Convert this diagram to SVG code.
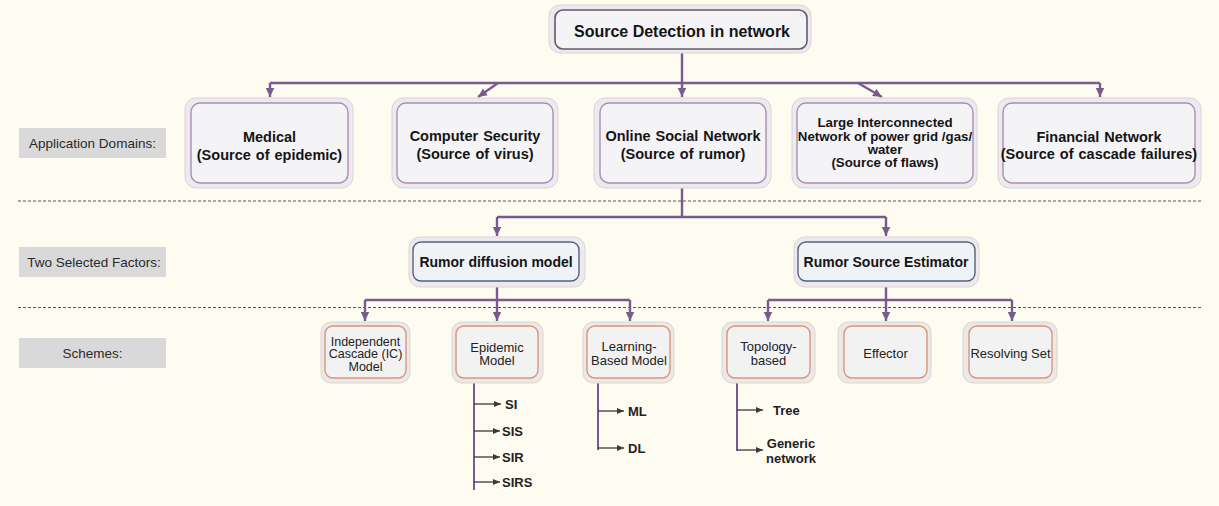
<svg xmlns="http://www.w3.org/2000/svg" width="1219" height="506" viewBox="0 0 1219 506">
<style>
text{font-family:"Liberation Sans",Arial,sans-serif;fill:#151515;text-anchor:middle}
.b{font-weight:bold}
.t1{font-size:14.5px;font-weight:bold;word-spacing:1px}
.t1s{font-size:13.3px;font-weight:bold}
.lab{font-size:13.5px;fill:#2a2a2a}
.sc{font-size:13px;fill:#222}
.sc2{font-size:12.5px;fill:#222}
.sub{font-size:13px;font-weight:bold;fill:#222;text-anchor:start}
.gray{fill:#D9D9D9}
.shell{fill:#EDE9ED;stroke:#DAD4DA;stroke-width:1}
.in1{fill:#F4F3F6;stroke:#A78EB4;stroke-width:1.4}
.inTop{fill:#F4F4F6;stroke:#5E5E66;stroke-width:1.6}
.inR{fill:#EFF2F6;stroke:#56627C;stroke-width:1.4}
.inS{fill:#F3F2F2;stroke:#D8967C;stroke-width:1.4}
.shellS{fill:#EBE8E6;stroke:#DAD6D3;stroke-width:1}
.conn{fill:none;stroke:#7A5A8E;stroke-width:2.4}
.dash{stroke:#555;stroke-width:1.2;stroke-dasharray:3 2}
.bl{fill:none;stroke:#7A5A8E;stroke-width:2}
.br{fill:none;stroke:#3a3a3a;stroke-width:1.3}
</style>
<defs>
<marker id="ah" markerUnits="userSpaceOnUse" markerWidth="10" markerHeight="10" refX="9" refY="5" orient="auto">
<path d="M0,0.8 L9,5 L0,9.2 Z" fill="#7A5A8E"/>
</marker>
<marker id="ad" markerUnits="userSpaceOnUse" markerWidth="8" markerHeight="8" refX="7" refY="4" orient="auto">
<path d="M0,1 L7,4 L0,7 Z" fill="#3a3a3a"/>
</marker>
</defs>
<rect width="1219" height="506" fill="#FEFCF1"/>

<g id="separators">
<line class="dash" x1="18" y1="201" x2="1202" y2="201"/>
<line class="dash" x1="18" y1="307.5" x2="1202" y2="307.5"/>
</g>

<g id="label-application">
<rect class="gray" x="19" y="128" width="147" height="30"/>
<text class="lab" x="92.5" y="147.5">Application Domains:</text>
</g>
<g id="label-factors">
<rect class="gray" x="19" y="247" width="147" height="30"/>
<text class="lab" x="94" y="266.5">Two Selected Factors:</text>
</g>
<g id="label-schemes">
<rect class="gray" x="19" y="338" width="147" height="30"/>
<text class="lab" x="92.5" y="357.5">Schemes:</text>
</g>

<g id="connectors">
<path class="conn" d="M682,53 V83 M270,83 H1100"/>
<path class="conn" d="M270,83 V97" marker-end="url(#ah)"/>
<path class="conn" d="M498,83 L478,97" marker-end="url(#ah)"/>
<path class="conn" d="M682,83 V97" marker-end="url(#ah)"/>
<path class="conn" d="M858,83 L882,97" marker-end="url(#ah)"/>
<path class="conn" d="M1100,83 V97" marker-end="url(#ah)"/>
<path class="conn" d="M682,188 V217 M497,217 H886"/>
<path class="conn" d="M497,217 V236" marker-end="url(#ah)"/>
<path class="conn" d="M886,217 V236" marker-end="url(#ah)"/>
<path class="conn" d="M497,287 V300 M365,300 H630"/>
<path class="conn" d="M365,300 V321" marker-end="url(#ah)"/>
<path class="conn" d="M497,300 V321" marker-end="url(#ah)"/>
<path class="conn" d="M630,300 V321" marker-end="url(#ah)"/>
<path class="conn" d="M886,287 V300 M768,300 H1012"/>
<path class="conn" d="M768,300 V321" marker-end="url(#ah)"/>
<path class="conn" d="M886,300 V321" marker-end="url(#ah)"/>
<path class="conn" d="M1012,300 V321" marker-end="url(#ah)"/>
<path class="bl" d="M474,383 V490"/>
<path class="br" d="M474,404 H501" marker-end="url(#ad)"/>
<path class="br" d="M474,431 H500" marker-end="url(#ad)"/>
<path class="br" d="M474,457 H500" marker-end="url(#ad)"/>
<path class="br" d="M474,482 H500" marker-end="url(#ad)"/>
<path class="bl" d="M598,383 V450"/>
<path class="br" d="M598,411 H624" marker-end="url(#ad)"/>
<path class="br" d="M598,448 H624" marker-end="url(#ad)"/>
<path class="bl" d="M737,383 V451"/>
<path class="br" d="M737,410 H763" marker-end="url(#ad)"/>
<path class="br" d="M737,450 H763" marker-end="url(#ad)"/>
</g>

<g id="node-root">
<rect class="shell" x="549" y="5" width="262" height="48" rx="11"/>
<rect class="inTop" x="555" y="10" width="252" height="39" rx="8"/>
<text class="b" x="682" y="37" style="font-size:16px">Source Detection in network</text>
</g>

<g id="node-medical">
<rect class="shell" x="185" y="98" width="168" height="90" rx="11"/>
<rect class="in1" x="191" y="103" width="157" height="80" rx="9"/>
<text class="t1" x="269.5" y="142">Medical</text>
<text class="t1" x="269.5" y="160">(Source of epidemic)</text>
</g>
<g id="node-security">
<rect class="shell" x="392" y="98" width="166" height="90" rx="11"/>
<rect class="in1" x="397" y="103" width="156" height="80" rx="9"/>
<text class="t1" x="475" y="141">Computer Security</text>
<text class="t1" x="475" y="159">(Source of virus)</text>
</g>
<g id="node-osn">
<rect class="shell" x="594" y="98" width="177" height="90" rx="11"/>
<rect class="in1" x="600" y="103" width="166" height="80" rx="9"/>
<text class="t1" x="683" y="141">Online Social Network</text>
<text class="t1" x="683" y="159">(Source of rumor)</text>
</g>
<g id="node-grid">
<rect class="shell" x="792" y="98" width="185" height="90" rx="11"/>
<rect class="in1" x="797" y="103" width="176" height="80" rx="9"/>
<text class="t1s" x="885" y="127">Large Interconnected</text>
<text class="t1s" x="885" y="141">Network of power grid /gas/</text>
<text class="t1s" x="885" y="154">water</text>
<text class="t1s" x="885" y="167">(Source of flaws)</text>
</g>
<g id="node-financial">
<rect class="shell" x="998" y="98" width="203" height="90" rx="11"/>
<rect class="in1" x="1003" y="103" width="192" height="80" rx="9"/>
<text class="t1" x="1099" y="142">Financial Network</text>
<text class="t1" x="1099" y="159">(Source of cascade failures)</text>
</g>

<g id="node-diffusion">
<rect class="shell" x="409" y="237" width="176" height="50" rx="11"/>
<rect class="inR" x="413" y="242" width="166" height="39" rx="8"/>
<text class="b" x="496" y="266.5" style="font-size:14px">Rumor diffusion model</text>
</g>
<g id="node-estimator">
<rect class="shell" x="794" y="237" width="185" height="50" rx="11"/>
<rect class="inR" x="798" y="242" width="177" height="39" rx="8"/>
<text class="b" x="886" y="266.5" style="font-size:14px">Rumor Source Estimator</text>
</g>

<g id="node-ic">
<rect class="shellS" x="321" y="322" width="89" height="61" rx="10"/>
<rect class="inS" x="325" y="326" width="81" height="52" rx="8"/>
<text class="sc2" x="365.5" y="345.5">Independent</text>
<text class="sc2" x="365.5" y="358">Cascade (IC)</text>
<text class="sc2" x="365.5" y="370.5">Model</text>
</g>
<g id="node-epidemic">
<rect class="shellS" x="452" y="322" width="91" height="61" rx="10"/>
<rect class="inS" x="456" y="326" width="82" height="52" rx="8"/>
<text class="sc" x="497" y="351.5">Epidemic</text>
<text class="sc" x="497" y="364.5">Model</text>
</g>
<g id="node-learning">
<rect class="shellS" x="583" y="322" width="91" height="61" rx="10"/>
<rect class="inS" x="587" y="326" width="83" height="52" rx="8"/>
<text class="sc" x="629" y="351">Learning-</text>
<text class="sc" x="629" y="365">Based Model</text>
</g>
<g id="node-topology">
<rect class="shellS" x="722" y="322" width="93" height="61" rx="10"/>
<rect class="inS" x="727" y="326" width="83" height="52" rx="8"/>
<text class="sc" x="768.5" y="351">Topology-</text>
<text class="sc" x="768.5" y="365">based</text>
</g>
<g id="node-effector">
<rect class="shellS" x="838" y="322" width="93" height="61" rx="10"/>
<rect class="inS" x="844" y="326" width="83" height="52" rx="8"/>
<text class="sc" x="885.5" y="357.5">Effector</text>
</g>
<g id="node-resolving">
<rect class="shellS" x="963" y="322" width="94" height="61" rx="10"/>
<rect class="inS" x="969" y="326" width="83" height="52" rx="8"/>
<text class="sc" x="1010.5" y="357.5">Resolving Set</text>
</g>

<g id="node-si"><text class="sub" x="505" y="408.5">SI</text></g>
<g id="node-sis"><text class="sub" x="502" y="435.5">SIS</text></g>
<g id="node-sir"><text class="sub" x="502" y="461.5">SIR</text></g>
<g id="node-sirs"><text class="sub" x="502" y="486.5">SIRS</text></g>
<g id="node-ml"><text class="sub" x="628" y="415.5">ML</text></g>
<g id="node-dl"><text class="sub" x="628" y="452.5">DL</text></g>
<g id="node-tree"><text class="sub" x="773" y="414.5">Tree</text></g>
<g id="node-generic">
<text class="sub" x="791" y="448" style="text-anchor:middle">Generic</text>
<text class="sub" x="791" y="462.5" style="text-anchor:middle">network</text>
</g>
</svg>
